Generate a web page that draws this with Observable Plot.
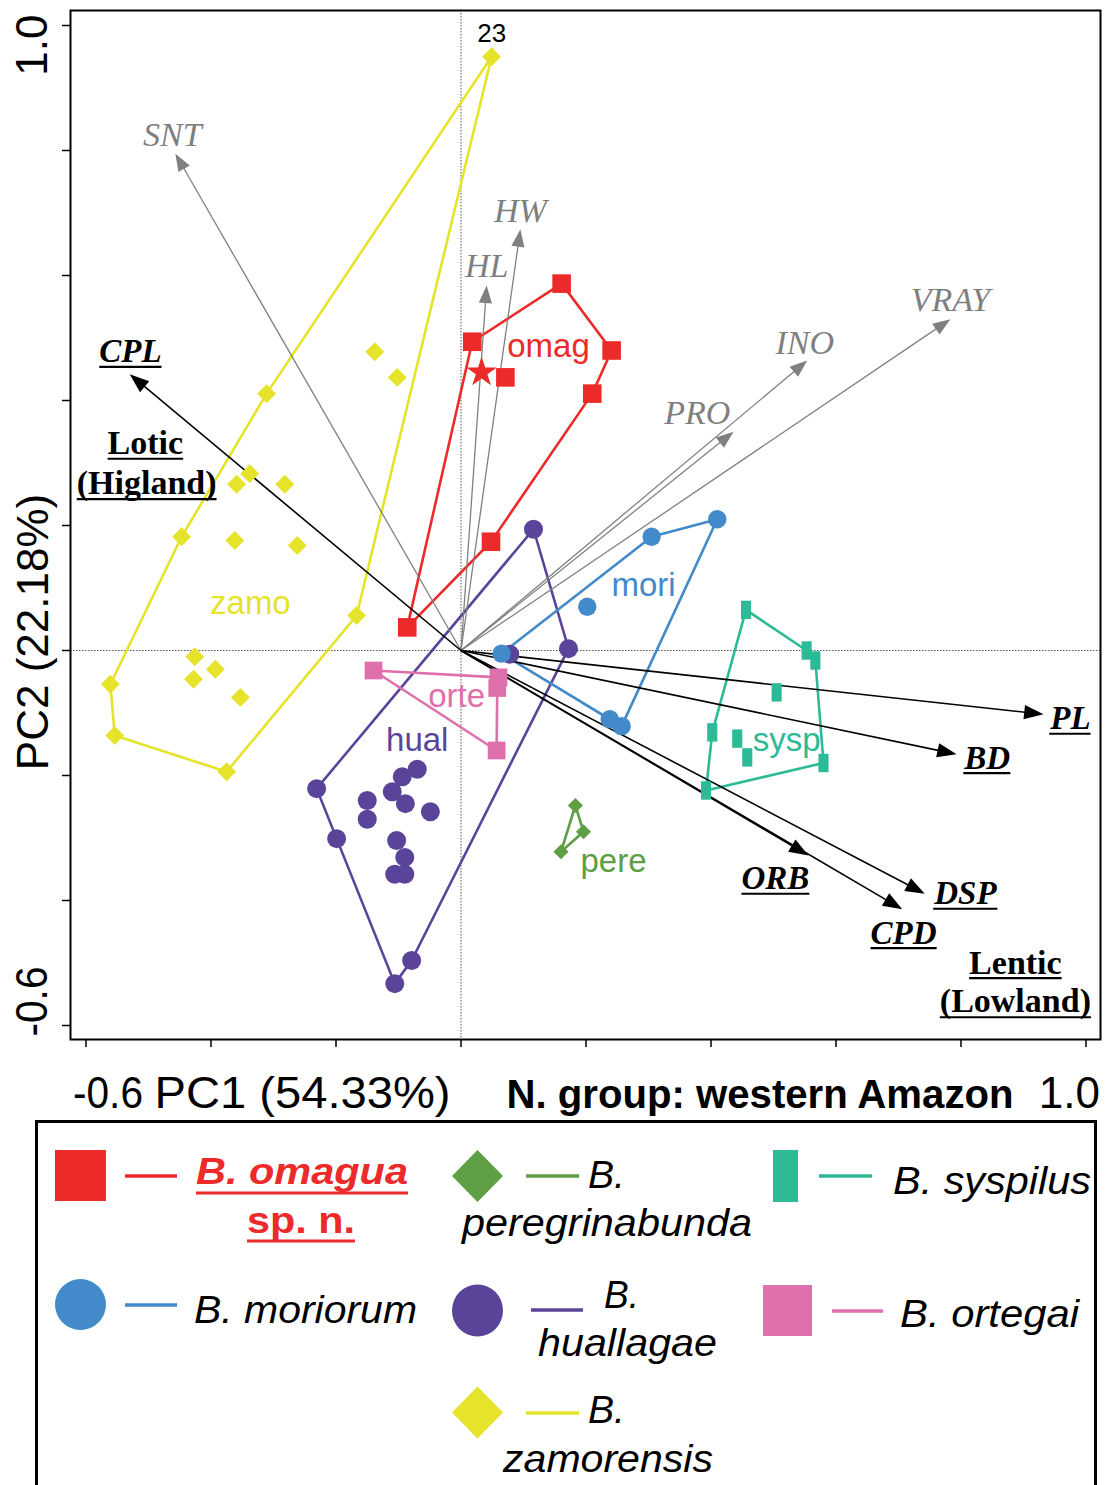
<!DOCTYPE html>
<html><head><meta charset="utf-8">
<script src="https://cdn.jsdelivr.net/npm/d3@7"></script>
<script src="https://cdn.jsdelivr.net/npm/@observablehq/plot@0.6"></script>
<style>
html,body{margin:0;padding:0;background:#fff;overflow:hidden;}
#page{width:1105px;height:1485px;position:relative;background:#fff;}
#page svg{display:block;}
</style></head><body><div id="page"></div>
<script>
// ---------------- DATA ----------------
const groupNames = ["omag","zamo","hual","orte","mori","sysp","pere"];
const groupColors = ["#ed2a2a","#e6e32b","#5a449a","#de70ab","#428ac9","#2dba96","#5e9e44"];

// PCA scores [PC1, PC2] per group; hull = vertex order of the convex polygon
const omagPts = [[0.018,0.494],[0.161,0.587],[0.241,0.480],[0.210,0.411],[0.071,0.437],[0.048,0.174],[-0.086,0.037]];
const omagHull = [0,1,2,3,5,6];
const omagHolotype = [[0.033,0.445]];

const zamoPts = [[0.049,0.950],[-0.138,0.478],[-0.102,0.437],[-0.311,0.411],[-0.338,0.283],[-0.359,0.266],[-0.282,0.266],
  [-0.447,0.182],[-0.362,0.176],[-0.262,0.168],[-0.167,0.056],[-0.426,-0.010],[-0.393,-0.030],[-0.428,-0.046],
  [-0.353,-0.075],[-0.561,-0.054],[-0.554,-0.136],[-0.375,-0.194]];
const zamoHull = [0,3,7,15,16,17,10];
const zamoNumbered = [0];
const zamoNumberText = ["23"];

const hualPts = [[0.116,0.194],[0.172,0.003],[0.078,-0.006],[-0.231,-0.221],[-0.199,-0.301],[-0.106,-0.533],[-0.079,-0.496],
  [-0.070,-0.190],[-0.094,-0.202],[-0.110,-0.226],[-0.150,-0.240],[-0.089,-0.245],[-0.049,-0.258],[-0.150,-0.270],
  [-0.103,-0.304],[-0.090,-0.331],[-0.106,-0.358],[-0.090,-0.358]];
const hualHull = [0,1,6,5,4,3];

const ortePts = [[-0.140,-0.032],[0.060,-0.043],[0.058,-0.060],[0.057,-0.160]];
const orteHull = [0,1,2,3];

const moriPts = [[0.410,0.210],[0.305,0.182],[0.202,0.070],[0.065,-0.005],[0.238,-0.110],[0.257,-0.121]];
const moriHull = [3,1,0,5,4];

const syspPts = [[0.456,0.065],[0.553,0.000],[0.567,-0.016],[0.505,-0.067],[0.402,-0.131],[0.442,-0.141],
  [0.458,-0.171],[0.580,-0.180],[0.392,-0.224]];
const syspHull = [0,1,2,7,8,4];

const perePts = [[0.183,-0.248],[0.196,-0.290],[0.160,-0.322]];
const pereHull = [0,1,2];

const groupLabelX = [0.140,-0.337,-0.070,-0.007,0.292,0.521,0.244];
const groupLabelY = [0.470,0.058,-0.160,-0.091,0.088,-0.160,-0.354];

// variable loadings (arrows)
const varNames = ["SNT","HL","HW","PRO","INO","VRAY","CPL","PL","BD","ORB","DSP","CPD"];
const varPC1 = [-0.457,0.041,0.095,0.436,0.554,0.783,-0.530,0.932,0.793,0.556,0.742,0.706];
const varPC2 = [0.795,0.584,0.674,0.350,0.464,0.530,0.442,-0.102,-0.166,-0.328,-0.389,-0.414];
const varHabitat = [0,0,0,0,0,0,1,1,1,1,1,1];
const varLabelX = [-0.462,0.041,0.095,0.378,0.550,0.783,-0.529,0.975,0.842,0.503,0.807,0.708];
const varLabelY = [0.808,0.598,0.686,0.363,0.475,0.544,0.461,-0.126,-0.189,-0.382,-0.406,-0.469];

const habitatText = ["Lotic","(Higland)","Lentic","(Lowland)"];
const habitatX = [-0.505,-0.503,0.887,0.887];
const habitatY = [0.314,0.251,-0.517,-0.578];

const axisTicks = [-0.6,-0.4,-0.2,0,0.2,0.4,0.6,0.8,1.0];
const endTickValues = [-0.6, 1.0];
const endTickText = ["-0.6","1.0"];
const xTitle = "PC1 (54.33%)";
const yTitle = "PC2 (22.18%)";
const groupTitle = "N. group: western Amazon";

// ---------------- BUILD ----------------
const sans = "Liberation Sans, Arial, Helvetica, sans-serif";
const serif = "Liberation Serif, Times New Roman, serif";
const colorOf = Object.fromEntries(groupNames.map((g,i)=>[g,groupColors[i]]));

const tallRect = {draw(ctx, size){const r=Math.sqrt(size/Math.PI);ctx.moveTo(-0.55*r,-r);ctx.lineTo(0.55*r,-r);ctx.lineTo(0.55*r,r);ctx.lineTo(-0.55*r,r);ctx.closePath();}};

const groupDefs = [
  {g:"omag", pts:omagPts, hull:omagHull, symbol:"square", r:10.5},
  {g:"zamo", pts:zamoPts, hull:zamoHull, symbol:"diamond2", r:8.5},
  {g:"hual", pts:hualPts, hull:hualHull, symbol:"circle", r:9.5},
  {g:"orte", pts:ortePts, hull:orteHull, symbol:"square", r:10},
  {g:"mori", pts:moriPts, hull:moriHull, symbol:"circle", r:9.2},
  {g:"sysp", pts:syspPts, hull:syspHull, symbol:tallRect, r:9.2},
  {g:"pere", pts:perePts, hull:pereHull, symbol:"diamond2", r:6.8}
];

const toRows = (pts,g) => pts.map(([x,y])=>({g,x,y}));
const hullRows = (pts,hull,g) => [...hull, hull[0]].map(i=>({g,x:pts[i][0],y:pts[i][1]}));

const arrows = varNames.map((n,i)=>{
  const x=varPC1[i], y=varPC2[i], len=Math.hypot(x,y);
  const ux=x/len, uy=y/len;
  const L = varHabitat[i] ? 0.031 : 0.028;
  const w = varHabitat[i] ? 0.0115 : 0.0105;
  const bx=x-L*ux, by=y-L*uy;
  return {n, x, y, ux, uy, bx, by, L, w, hab: varHabitat[i], lx: varLabelX[i], ly: varLabelY[i]};
});
const heads = arrows.flatMap(a=>{
  const px=-a.uy, py=a.ux;
  return [[a.x,a.y],[a.bx+a.w*px,a.by+a.w*py],[a.bx-a.w*px,a.by-a.w*py],[a.x,a.y]].map(([x,y])=>({n:a.n,hab:a.hab,x,y}));
});

const marks = [];
marks.push(Plot.ruleX([0],{stroke:"#555",strokeWidth:1,strokeDasharray:"1.5,1.5"}));
marks.push(Plot.ruleY([0],{stroke:"#555",strokeWidth:1,strokeDasharray:"1.5,1.5"}));
for (const d of groupDefs) {
  marks.push(Plot.line(hullRows(d.pts,d.hull,d.g),{x:"x",y:"y",stroke:colorOf[d.g],strokeWidth:2.6,curve:"linear"}));
}
for (const hab of [0,1]) {
  const col = hab ? "#000" : "#808080";
  const A = arrows.filter(a=>a.hab===hab);
  marks.push(Plot.link(A,{x1:()=>0,y1:()=>0,x2:a=>a.bx+0.4*a.L*a.ux,y2:a=>a.by+0.4*a.L*a.uy,stroke:col,strokeWidth:hab?1.6:1.3}));
  marks.push(Plot.line(heads.filter(h=>h.hab===hab),{x:"x",y:"y",z:"n",fill:col,stroke:"none"}));
}
for (const d of groupDefs) {
  marks.push(Plot.dot(toRows(d.pts,d.g),{x:"x",y:"y",symbol:d.symbol,r:d.r,fill:colorOf[d.g],stroke:"none"}));
}
marks.push(Plot.dot(toRows(omagHolotype,"omag"),{x:"x",y:"y",symbol:"star",r:9.5,fill:colorOf.omag,stroke:"none"}));
marks.push(Plot.text(zamoNumbered.map((i,k)=>({x:zamoPts[i][0],y:zamoPts[i][1],t:zamoNumberText[k]})),
  {x:"x",y:"y",text:"t",dy:-15,lineAnchor:"bottom",fontSize:26,fontFamily:sans,fill:"#000"}));
marks.push(Plot.text(groupNames.map((g,i)=>({g,x:groupLabelX[i],y:groupLabelY[i]})),
  {x:"x",y:"y",text:"g",fill:d=>colorOf[d.g],lineAnchor:"bottom",fontSize:33,fontFamily:sans}));
marks.push(Plot.text(arrows.filter(a=>!a.hab),{x:"lx",y:"ly",text:"n",lineAnchor:"bottom",fontSize:34,fontFamily:serif,fontStyle:"italic",fill:"#7f7f7f"}));
marks.push(Plot.text(arrows.filter(a=>a.hab),{x:"lx",y:"ly",text:"n",lineAnchor:"bottom",fontSize:33,fontFamily:serif,fontStyle:"italic",fontWeight:"bold",fill:"#000"}));
marks.push(Plot.text(habitatText.map((t,i)=>({t,x:habitatX[i],y:habitatY[i]})),{x:"x",y:"y",text:"t",lineAnchor:"bottom",fontSize:34,fontFamily:serif,fontWeight:"bold",fill:"#000"}));
marks.push(Plot.axisX(axisTicks,{anchor:"bottom",tickSize:8,tickFormat:()=>"",strokeWidth:1.5,label:null}));
marks.push(Plot.axisY(axisTicks,{anchor:"left",tickSize:8,tickFormat:()=>"",strokeWidth:1.5,label:null}));
marks.push(Plot.frame({stroke:"#000",strokeWidth:2}));
const bl = 68; // x-axis text baseline below the frame
marks.push(Plot.text([0],{x:()=>endTickValues[0],text:()=>endTickText[0],frameAnchor:"bottom",dy:bl,dx:-13,textAnchor:"start",lineAnchor:"bottom",fontSize:44,fontFamily:sans,fill:"#000"}));
marks.push(Plot.text([0],{x:()=>endTickValues[1],text:()=>endTickText[1],frameAnchor:"bottom",dy:bl,dx:14,textAnchor:"end",lineAnchor:"bottom",fontSize:44,fontFamily:sans,fill:"#000"}));
marks.push(Plot.text([0],{y:()=>endTickValues[0],text:()=>endTickText[0],frameAnchor:"left",dx:-38,dy:11,rotate:-90,textAnchor:"start",lineAnchor:"middle",fontSize:44,fontFamily:sans,fill:"#000"}));
marks.push(Plot.text([0],{y:()=>endTickValues[1],text:()=>endTickText[1],frameAnchor:"left",dx:-38,dy:-11,rotate:-90,textAnchor:"end",lineAnchor:"middle",fontSize:44,fontFamily:sans,fill:"#000"}));
marks.push(Plot.text([xTitle],{frameAnchor:"bottom-left",dx:84,dy:bl,textAnchor:"start",lineAnchor:"bottom",fontSize:44,fontFamily:sans,fill:"#000"}));
marks.push(Plot.text([groupTitle],{frameAnchor:"bottom-left",dx:436,dy:bl,textAnchor:"start",lineAnchor:"bottom",fontSize:41,fontWeight:"bold",fontFamily:sans,fill:"#000"}));
marks.push(Plot.text([yTitle],{frameAnchor:"left",dx:-37,dy:107,rotate:-90,textAnchor:"middle",lineAnchor:"middle",fontSize:44,fontFamily:sans,fill:"#000"}));

const plot = Plot.plot({
  width:1105, height:1118,
  marginLeft:70, marginRight:5, marginTop:10, marginBottom:79,
  x:{domain:[-0.6248,1.0232]}, y:{domain:[-0.6224,1.024]},
  style:{background:"white",fontFamily:sans,overflow:"visible"},
  marks
});
const page = document.getElementById("page");
page.appendChild(plot);

// underline habitat-related variable names and habitat labels; fit axis texts to their widths
const underlineSet = new Set([...varNames.filter((n,i)=>varHabitat[i]), ...habitatText]);
const fitWidths = {"-0.6":70, [xTitle]:296, [groupTitle]:507};
d3.select(plot).selectAll("text").each(function(){
  const s = this.textContent;
  if (fitWidths[s]) {
    this.setAttribute("textLength", fitWidths[s]);
    this.setAttribute("lengthAdjust", "spacingAndGlyphs");
  }
  if (underlineSet.has(s)) {
    const b = this.getBBox();
    const yU = b.y + b.height - 2.5;
    d3.select(this.parentNode).append("line")
      .attr("transform", this.getAttribute("transform"))
      .attr("x1", b.x).attr("x2", b.x + b.width)
      .attr("y1", yU).attr("y2", yU)
      .attr("stroke", "#000").attr("stroke-width", 2.2);
  }
});

// ---------------- LEGEND ----------------
const legendLabels = ["B. omagua","sp. n.","B.","peregrinabunda","B. syspilus","B. moriorum","B.","huallagae","B. ortegai","B.","zamorensis"];
const leg = d3.create("svg").attr("width",1105).attr("height",367).style("display","block");
leg.append("rect").attr("x",36.5).attr("y",3.5).attr("width",1059).attr("height",420)
  .attr("fill","none").attr("stroke","#000").attr("stroke-width",3);
const txt = (s,x,y,o={}) => {
  const t = leg.append("text").attr("x",x).attr("y",y).text(s)
    .attr("font-family",sans).attr("font-size",o.size||38).attr("font-style","italic")
    .attr("font-weight",o.weight||"normal").attr("fill",o.fill||"#000");
  if (o.len) t.attr("textLength",o.len).attr("lengthAdjust","spacingAndGlyphs");
  return t;
};
const seg = (x1,x2,y,c) => leg.append("line").attr("x1",x1).attr("x2",x2).attr("y1",y).attr("y2",y).attr("stroke",c).attr("stroke-width",3.5);
const diamond = (cx,cy,hw,hh,c) => leg.append("polygon").attr("points",`${cx},${cy-hh} ${cx+hw},${cy} ${cx},${cy+hh} ${cx-hw},${cy}`).attr("fill",c);
const C = colorOf;
leg.append("rect").attr("x",55).attr("y",32).attr("width",51).attr("height",51).attr("fill",C.omag);
seg(125,177,58,C.omag);
txt(legendLabels[0],196,66,{size:36,weight:"bold",fill:C.omag,len:212});
seg(196,408,75,C.omag).attr("stroke-width",3);
txt(legendLabels[1],247,115,{size:36,weight:"bold",fill:C.omag,len:108}).attr("font-style","normal");
seg(247,355,123,C.omag).attr("stroke-width",3);
diamond(477.5,58,25.5,26,C.pere);
seg(526,579,58,C.pere);
txt(legendLabels[2],588,70,{len:37});
txt(legendLabels[3],462,118,{len:290});
leg.append("rect").attr("x",773).attr("y",32).attr("width",25).attr("height",52).attr("fill",C.sysp);
seg(819,872,58,C.sysp);
txt(legendLabels[4],893,76,{len:198});
leg.append("circle").attr("cx",80.5).attr("cy",186.5).attr("r",25.5).attr("fill",C.mori);
seg(125,177,187,C.mori);
txt(legendLabels[5],194,205,{len:223});
leg.append("ellipse").attr("cx",477.5).attr("cy",192.5).attr("rx",25.5).attr("ry",26).attr("fill",C.hual);
seg(531,583,192,C.hual);
txt(legendLabels[6],604,190,{len:35});
txt(legendLabels[7],538,238,{len:179});
leg.append("rect").attr("x",763).attr("y",167).attr("width",49).attr("height",51).attr("fill",C.orte);
seg(832,883,193,C.orte);
txt(legendLabels[8],900,209,{len:179});
diamond(477.5,294.5,25.5,26,C.zamo);
seg(526,579,295,C.zamo);
txt(legendLabels[9],588,305,{len:37});
txt(legendLabels[10],503,354,{len:210});
page.appendChild(leg.node());
</script></body></html>
